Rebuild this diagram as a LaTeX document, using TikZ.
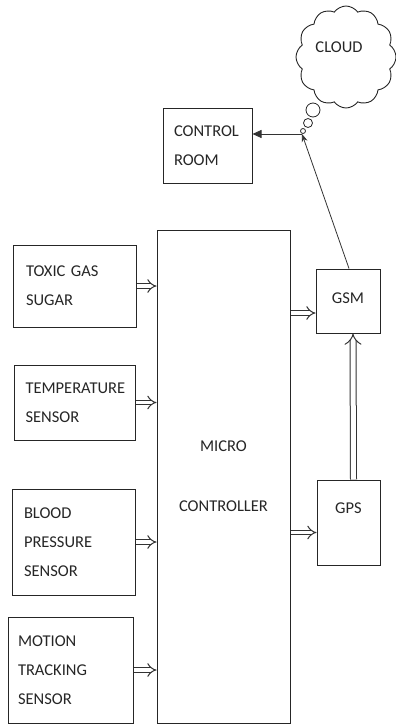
\documentclass[tikz,border=0pt]{standalone}
\usepackage{fontspec}
\setmainfont{Carlito}
\usetikzlibrary{arrows.meta,shapes.symbols,calc}
\begin{document}
\begin{tikzpicture}[x=1pt,y=-1pt,
  box/.style={draw=black!85,line width=1pt,inner sep=0pt,align=left,
    font=\fontsize{16.5}{29}\selectfont,text=black!85},
  lbl/.style={font=\fontsize{16.5}{20}\selectfont,text=black!85},
  dbl/.style={double=white,draw=black!80,line width=1pt,double distance=3.8pt,-{Implies[length=5.5pt]}},
  bigdbl/.style={double=white,draw=black!80,line width=1pt,double distance=5pt,-{Implies[length=10pt]}},
  thin/.style={draw=black!80,line width=0.8pt}]
\useasboundingbox (0,0) rectangle (396,726);
% sensor boxes
\node[box,minimum width=123,minimum height=82,text width=97] (toxic) at (74.5,286) {TOXIC GAS\\SUGAR};
\node[box,minimum width=121,minimum height=75,text width=99] (temp) at (75,402.5) {TEMPERATURE\\SENSOR};
\node[box,minimum width=123,minimum height=106,text width=99] (blood) at (73.5,542) {BLOOD\\PRESSURE\\SENSOR};
\node[box,minimum width=125,minimum height=106,text width=105] (motion) at (70.5,670) {MOTION\\TRACKING\\SENSOR};
% micro controller
\node[box,align=center,minimum width=133,minimum height=493,font=\fontsize{16.5}{60}\selectfont] (mc) at (223.5,476.5) {MICRO\\CONTROLLER};
% GSM, GPS
\node[box,minimum width=64,minimum height=64,label={[lbl,yshift=3pt]center:GSM}] (gsm) at (348,301) {};
\node[box,minimum width=63,minimum height=85,label={[lbl,yshift=14pt]center:GPS}] (gps) at (348.5,522.5) {};
% control room
\node[box,minimum width=89,minimum height=75,text width=67] (ctrl) at (207.5,145.5) {CONTROL\\ROOM};
% cloud
\node[cloud,draw=black!85,line width=0.9pt,cloud puffs=12,cloud puff arc=110,aspect=1.05,minimum width=100,minimum height=102,inner sep=0pt,
  label={[lbl,xshift=-7pt,yshift=10pt]center:CLOUD}] (cloud) at (346,57) {};
\node[circle,draw=black!85,fill=white,line width=0.8pt,minimum size=14,inner sep=0pt] (b1) at (313,110) {};
\node[circle,draw=black!85,fill=white,line width=0.8pt,minimum size=9,inner sep=0pt] (b2) at (308,123) {};
\node[circle,draw=black!85,fill=white,line width=0.8pt,minimum size=5,inner sep=0pt] (b3) at (303,131) {};
\coordinate (jn) at (302,134);
% inputs
\draw[dbl] (toxic.east) -- (toxic.east -| mc.west);
\draw[dbl] (temp.east) -- (temp.east -| mc.west);
\draw[dbl] (blood.east) -- (blood.east -| mc.west);
\draw[dbl] (motion.east) -- (motion.east -| mc.west);
% outputs
\path (gsm.west) ++(0,12) coordinate (gsmin);
\path (gps.west) ++(0,10) coordinate (gpsin);
\draw[dbl] (gsmin -| mc.east) -- (gsmin);
\draw[dbl] (gpsin -| mc.east) -- (gpsin);
\draw[bigdbl] ([xshift=5pt]gps.north) -- ([xshift=5pt]gsm.south);
% to cloud / control room
\draw[thin,-{Stealth[length=8pt,width=6pt]}] ([xshift=1pt]gsm.north) -- (jn);
\draw[thin,-{Triangle[length=9pt,width=8pt]}] (jn) -- (ctrl.east |- jn);
\end{tikzpicture}
\end{document}
